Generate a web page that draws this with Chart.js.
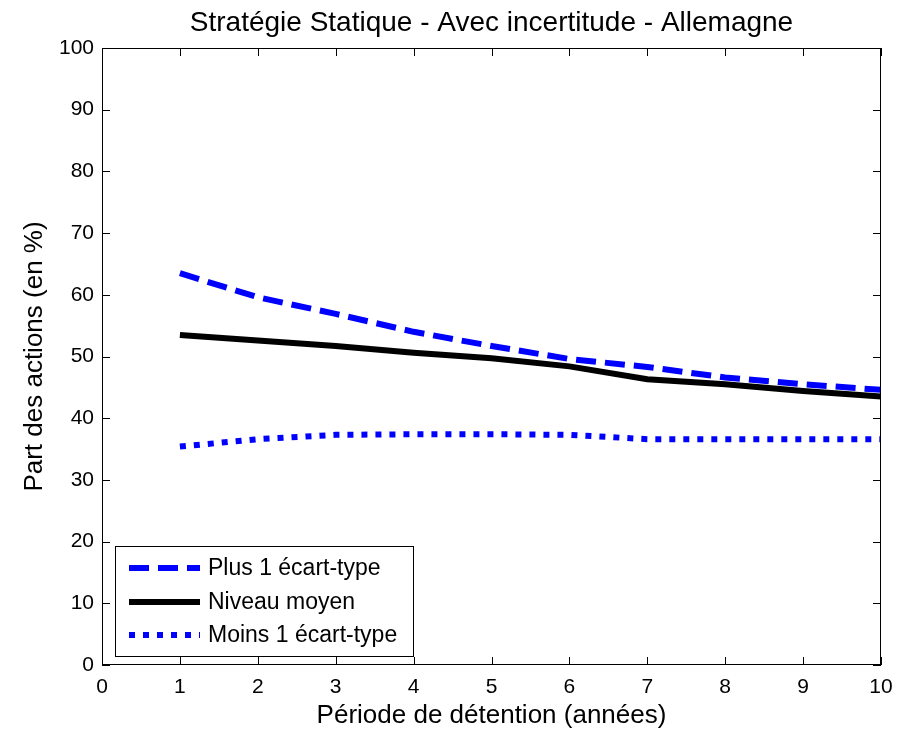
<!DOCTYPE html>
<html><head><meta charset="utf-8">
<script src="https://cdn.jsdelivr.net/npm/chart.js@4/dist/chart.umd.min.js"></script>
<style>html,body{margin:0;padding:0;background:#fff;}#wrap{width:912px;height:734px;}</style>
</head><body><div id="wrap"><canvas id="c" width="912" height="734"></canvas></div>
<script>
const periods = [1,2,3,4,5,6,7,8,9,10];
const plusUn = [63.5,59.6,56.9,54.0,51.7,49.6,48.3,46.6,45.5,44.6];
const niveauMoyen = [53.5,52.6,51.7,50.6,49.7,48.4,46.3,45.5,44.4,43.5];
const moinsUn = [35.4,36.6,37.3,37.4,37.4,37.3,36.6,36.6,36.6,36.6];
const xTicks = [0,1,2,3,4,5,6,7,8,9,10];
const yTicks = [0,10,20,30,40,50,60,70,80,90,100];
const titleText = 'Stratégie Statique - Avec incertitude - Allemagne';
const FONT = '"Liberation Sans", Arial, Helvetica, sans-serif';

const mk = (arr) => periods.map((p,i)=>({x:p,y:arr[i]}));

const framePlugin = {
  id:'frame',
  afterDraw(chart){
    const {ctx, chartArea:a, scales:{x,y}} = chart;
    ctx.save();
    ctx.strokeStyle='#000'; ctx.lineWidth=1;
    ctx.strokeRect(a.left+0.5,a.top+0.5,a.right-a.left-1,a.bottom-a.top-1);
    const L=8;
    ctx.beginPath();
    xTicks.forEach(v=>{const px=Math.round(x.getPixelForValue(v))+0.5;
      ctx.moveTo(px,a.bottom);ctx.lineTo(px,a.bottom-L);
      ctx.moveTo(px,a.top);ctx.lineTo(px,a.top+L);});
    yTicks.forEach(v=>{const py=Math.round(y.getPixelForValue(v))+0.5;
      ctx.moveTo(a.left,py);ctx.lineTo(a.left+L,py);
      ctx.moveTo(a.right,py);ctx.lineTo(a.right-L,py);});
    ctx.stroke();
    // title
    ctx.fillStyle='#000';
    ctx.font='28px '+FONT;
    ctx.textAlign='center';ctx.textBaseline='middle';
    ctx.fillText(titleText,(a.left+a.right)/2,23);
    // legend
    const bx=115,by=546,bw=298,bh=110;
    ctx.fillStyle='#fff';ctx.fillRect(bx,by,bw,bh);
    ctx.strokeRect(bx+0.5,by+0.5,bw,bh);
    const rows=[568,602,635];
    chart.data.datasets.forEach((ds,i)=>{
      ctx.save();
      ctx.strokeStyle=ds.borderColor;ctx.lineWidth=ds.borderWidth;
      ctx.setLineDash(ds.borderDash||[]);
      ctx.lineCap='butt';
      ctx.beginPath();ctx.moveTo(129,rows[i]);ctx.lineTo(200,rows[i]);ctx.stroke();
      ctx.restore();
      ctx.fillStyle='#000';ctx.font='23px '+FONT;ctx.textAlign='left';ctx.textBaseline='middle';
      ctx.fillText(ds.label,208,rows[i]+1);
    });
    ctx.restore();
  }
};

new Chart(document.getElementById('c'),{
  type:'line',
  data:{datasets:[
    {label:'Plus 1 écart-type',data:mk(plusUn),borderColor:'#0000ff',borderWidth:6,borderDash:[20,9],pointRadius:0,fill:false,tension:0},
    {label:'Niveau moyen',data:mk(niveauMoyen),borderColor:'#000000',borderWidth:6,pointRadius:0,fill:false,tension:0},
    {label:'Moins 1 écart-type',data:mk(moinsUn),borderColor:'#0000ff',borderWidth:6,borderDash:[6,8],pointRadius:0,fill:false,tension:0}
  ]},
  options:{
    responsive:false,animation:false,
    layout:{padding:{top:48,right:31,left:0,bottom:0}},
    plugins:{legend:{display:false},tooltip:{enabled:false},title:{display:false}},
    scales:{
      x:{type:'linear',min:0,max:10,
        afterFit(s){s.height=69;},
        afterBuildTicks(s){s.ticks=xTicks.map(v=>({value:v}));},
        grid:{display:false,drawTicks:false},border:{display:false},
        ticks:{color:'#000',font:{family:FONT,size:21},padding:10,maxRotation:0,autoSkip:false},
        title:{display:true,text:'Période de détention (années)',color:'#000',font:{family:FONT,size:26},padding:{top:0,bottom:3}}
      },
      y:{type:'linear',min:0,max:100,
        afterFit(s){s.width=102;},
        afterBuildTicks(s){s.ticks=yTicks.map(v=>({value:v}));},
        grid:{display:false,drawTicks:false},border:{display:false},
        ticks:{color:'#000',font:{family:FONT,size:21},padding:8,autoSkip:false},
        title:{display:true,text:'Part des actions (en %)',color:'#000',font:{family:FONT,size:26},padding:{top:19,bottom:0}}
      }
    }
  },
  plugins:[framePlugin]
});
</script></body></html>
